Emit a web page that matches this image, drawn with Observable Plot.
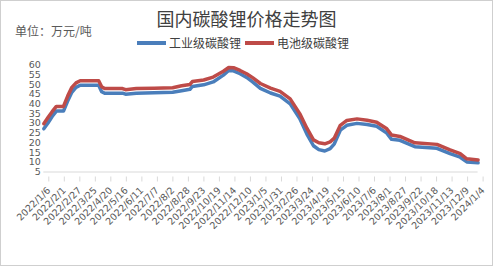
<!DOCTYPE html>
<html><head><meta charset="utf-8">
<script src="https://cdn.jsdelivr.net/npm/d3@7"></script>
<script src="https://cdn.jsdelivr.net/npm/@observablehq/plot@0.6"></script>
<style>
body{margin:0;background:#fff;}
#wrap{position:relative;width:493px;height:266px;overflow:hidden;font-family:"Noto Sans CJK SC",sans-serif;background:#fff;}
#border{position:absolute;left:0;top:0;width:491px;height:264px;border:1px solid #cfcfcf;pointer-events:none;}
#title{position:absolute;left:0;width:493px;top:5px;text-align:center;font-size:18px;color:#404040;line-height:26px;}
#unit{position:absolute;left:15px;top:22px;font-size:12px;color:#595959;line-height:18px;}
#legend{position:absolute;top:34px;left:137px;font-size:12px;color:#404040;display:flex;align-items:center;line-height:18px;}
.sw{display:inline-block;width:29px;height:4px;margin-right:3px;}
#chart{position:absolute;left:0;top:50px;}
</style></head>
<body>
<div id="wrap">
  <div id="title">国内碳酸锂价格走势图</div>
  <div id="unit">单位：万元/吨</div>
  <div id="legend"></div>
  <div id="chart"></div>
  <div id="border"></div>
</div>
<script>
const seriesNames = ["工业级碳酸锂", "电池级碳酸锂"];
const seriesColors = ["#4a7ebb", "#be4b48"];
const dates = [
 "2022-01-06","2022-01-13","2022-01-20","2022-01-27","2022-02-08","2022-02-15","2022-02-22","2022-03-01","2022-03-08","2022-04-08",
 "2022-04-13","2022-04-18","2022-05-18","2022-05-23","2022-06-10","2022-07-10","2022-08-10","2022-08-25","2022-09-08","2022-09-12",
 "2022-10-01","2022-10-17","2022-11-03","2022-11-12","2022-11-20","2022-12-01","2022-12-12","2022-12-22","2023-01-04","2023-01-21",
 "2023-02-06","2023-02-23","2023-03-11","2023-03-23","2023-04-03","2023-04-12","2023-04-22","2023-05-01","2023-05-08","2023-05-18",
 "2023-05-29","2023-06-15","2023-07-02","2023-07-18","2023-08-04","2023-08-12","2023-08-26","2023-09-20","2023-10-27","2023-11-18",
 "2023-12-05","2023-12-16","2024-01-04"
];
const battery = [
 29.8,33.0,36.0,38.7,38.7,44.0,48.5,50.8,51.9,51.9,
 48.8,47.9,47.9,47.3,47.9,48.1,48.3,49.3,50.0,51.5,
 52.3,53.8,56.8,58.7,58.6,57.2,55.5,53.5,50.5,48.1,
 46.4,42.6,35.0,27.5,21.5,20.0,19.5,20.5,22.5,29.0,
 31.5,32.3,31.6,30.6,27.2,24.0,23.3,20.0,19.2,16.4,
 14.4,11.8,11.2
];
const industrial = [
 27.2,30.2,33.5,36.3,36.3,41.5,46.0,48.5,49.6,49.6,
 46.3,45.5,45.5,45.0,45.5,45.7,46.0,46.8,47.5,49.0,
 49.8,51.3,54.8,57.2,57.0,55.5,53.6,51.3,48.0,45.6,
 44.0,40.0,32.5,24.5,18.5,16.5,15.8,17.0,19.5,26.5,
 29.0,30.0,29.4,28.5,25.0,21.8,21.3,18.0,17.2,14.4,
 12.6,10.2,9.7
];
const yTicks = [5,10,15,20,25,30,35,40,45,50,55,60];
const xTickLabels = ["2022/1/6","2022/2/1","2022/2/27","2022/3/25","2022/4/20","2022/5/16","2022/6/11","2022/7/7","2022/8/2","2022/8/28","2022/9/23","2022/10/19","2022/11/14","2022/12/10","2023/1/5","2023/1/31","2023/2/26","2023/3/24","2023/4/19","2023/5/15","2023/6/10","2023/7/6","2023/8/1","2023/8/27","2023/9/22","2023/10/18","2023/11/13","2023/12/9","2024/1/4"];

const parseLabel = s => { const [y,m,d] = s.split("/").map(Number); return new Date(Date.UTC(y,m-1,d)); };
const xTicks = xTickLabels.map(parseLabel);
const fmt = d => `${d.getUTCFullYear()}/${d.getUTCMonth()+1}/${d.getUTCDate()}`;

const rows = [];
[industrial, battery].forEach((arr, k) => arr.forEach((v, i) => rows.push({date: new Date(dates[i] + "T00:00:00Z"), v, s: seriesNames[k]})));

const legend = document.getElementById("legend");
seriesNames.forEach((n, k) => {
  const sw = document.createElement("span"); sw.className = "sw"; sw.style.background = seriesColors[k];
  const t = document.createElement("span"); t.textContent = n; t.style.marginRight = k === 0 ? "4px" : "0";
  legend.appendChild(sw); legend.appendChild(t);
});

const chart = Plot.plot({
  width: 493, height: 216,
  marginTop: 14.5, marginBottom: 94.5, marginLeft: 43.3, marginRight: 15.4,
  x: {type: "utc", domain: [xTicks[0], xTicks[xTicks.length - 1]]},
  y: {domain: [5, 60]},
  color: {domain: seriesNames, range: seriesColors},
  style: {fontFamily: "'DejaVu Sans', sans-serif", fontSize: "10px", color: "#595959", background: "transparent"},
  marks: [
    Plot.ruleY([5], {stroke: "#d9d9d9"}),
    Plot.axisY({ticks: yTicks, tickSize: 0, tickPadding: 3, fontSize: 9.5, fill: "#595959", label: null}),
    Plot.axisX({ticks: xTicks, tickSize: 5, tickFormat: fmt, tickRotate: -45, stroke: "#d9d9d9", fill: "#595959", fontSize: 9.5, dx: 5, dy: 5, label: null}),
    Plot.line(rows, {x: "date", y: "v", z: "s", stroke: "s", strokeWidth: 3.5, strokeLinejoin: "round", strokeLinecap: "round"})
  ]
});
document.getElementById("chart").appendChild(chart);
</script>
</body></html>
